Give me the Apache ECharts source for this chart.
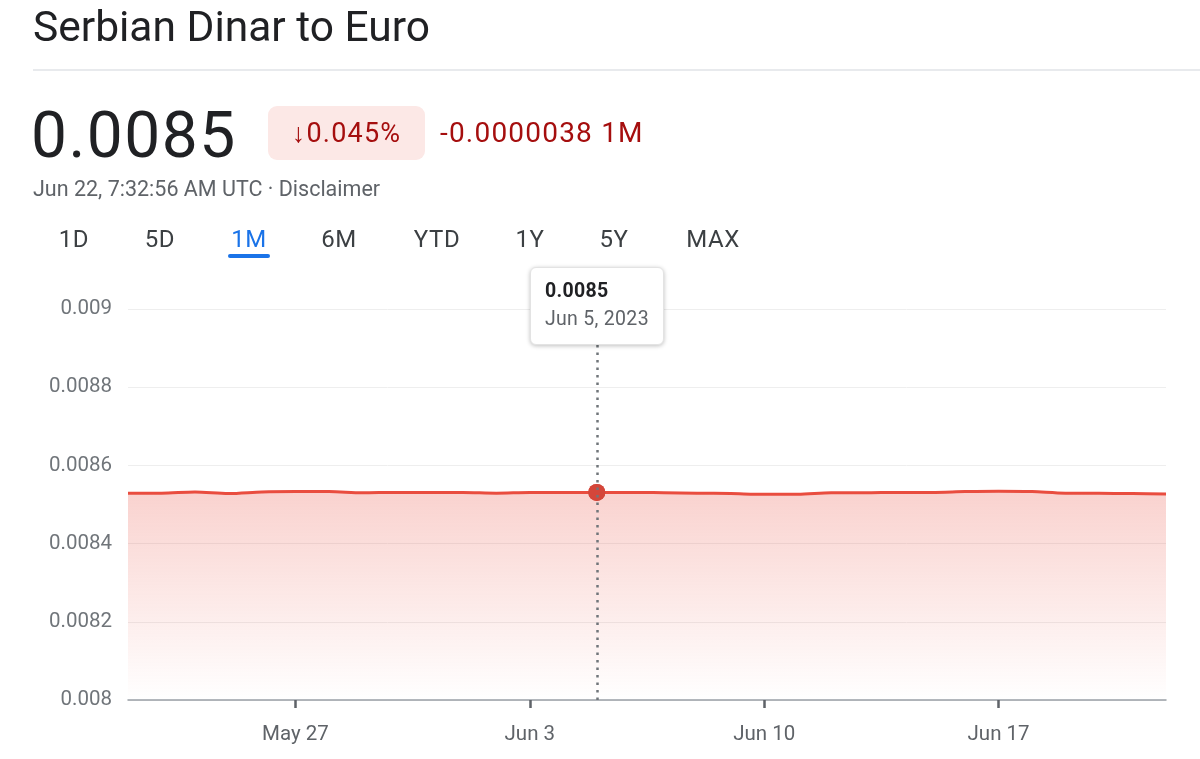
<!DOCTYPE html>
<html>
<head>
<meta charset="utf-8">
<title>Serbian Dinar to Euro</title>
<script src="https://cdn.jsdelivr.net/npm/echarts@6/dist/echarts.min.js"></script>
<style>
  html, body { margin: 0; padding: 0; background: #fff; }
  body { width: 1200px; height: 759px; position: relative; overflow: hidden; font-family: Roboto, "Noto Sans", sans-serif; }
  #chart { position: absolute; left: 0; top: 0; width: 1200px; height: 759px; }
  .hdr { position: absolute; white-space: nowrap; z-index: 2; }
  #title { left: 33px; top: 6px; font-size: 42.5px; line-height: 42px; color: #202124; }
  #rule { position: absolute; left: 33px; top: 69px; width: 1167px; height: 2px; background: #e8eaed; }
  #price { left: 31px; top: 104px; font-size: 64px; line-height: 64px; color: #202124; letter-spacing: 1.5px; }
  #badge { left: 268px; top: 106px; width: 157px; height: 54px; border-radius: 9px; background: #fce8e6;
           color: #a50e0e; font-size: 27px; line-height: 54px; text-align: center; letter-spacing: 1.2px; }
  #delta { left: 440px; top: 118px; font-size: 28px; line-height: 30px; color: #a50e0e; letter-spacing: 1.2px; }
  #stamp { left: 33px; top: 177px; font-size: 21.5px; line-height: 24px; color: #5f6368; }
  .tab { position: absolute; top: 226px; font-size: 24px; line-height: 26px; color: #3c4043; transform: translateX(-50%);
         letter-spacing: 0.6px; z-index: 2; }
  .tab.on { color: #1a73e8; }
  #uline { position: absolute; left: 228px; top: 254px; width: 42px; height: 4px; border-radius: 2px; background: #1a73e8; }
</style>
</head>
<body>
<div id="chart"></div>
<div class="hdr" id="title">Serbian Dinar to Euro</div>
<div id="rule"></div>
<div class="hdr" id="price">0.0085</div>
<div class="hdr" id="badge">↓0.045%</div>
<div class="hdr" id="delta">-0.0000038 1M</div>
<div class="hdr" id="stamp">Jun 22, 7:32:56 AM UTC · Disclaimer</div>
<div id="tabs"></div>
<div id="uline"></div>
<script>
// daily rate, RSD -> EUR, May 22 .. Jun 22 2023
var dates = [
  '2023-05-22', '2023-05-23', '2023-05-24', '2023-05-25', '2023-05-26', '2023-05-27', '2023-05-28',
  '2023-05-29', '2023-05-30', '2023-05-31', '2023-06-01', '2023-06-02', '2023-06-03', '2023-06-04',
  '2023-06-05', '2023-06-06', '2023-06-07', '2023-06-08', '2023-06-09', '2023-06-10', '2023-06-11',
  '2023-06-12', '2023-06-13', '2023-06-14', '2023-06-15', '2023-06-16', '2023-06-17', '2023-06-18',
  '2023-06-19', '2023-06-20', '2023-06-21', '2023-06-22'
];
var rates = [
  0.008529, 0.008529, 0.008532, 0.008528, 0.008532, 0.008533, 0.008533,
  0.008530, 0.008531, 0.008531, 0.008531, 0.008529, 0.008531, 0.008531,
  0.008531, 0.008531, 0.008530, 0.008529, 0.008528, 0.008526, 0.008526,
  0.008530, 0.008530, 0.008531, 0.008531, 0.008533, 0.008534, 0.008533,
  0.008529, 0.008529, 0.008528, 0.008527
];
var yTicks = [0.008, 0.0082, 0.0084, 0.0086, 0.0088, 0.009];
var tickDates = ['2023-05-27', '2023-06-03', '2023-06-10', '2023-06-17'];
var ranges = [['1D', 74], ['5D', 160], ['1M', 249], ['6M', 339], ['YTD', 437], ['1Y', 530], ['5Y', 614], ['MAX', 713]];
var focusDate = '2023-06-05';

var months = ['Jan', 'Feb', 'Mar', 'Apr', 'May', 'Jun', 'Jul', 'Aug', 'Sep', 'Oct', 'Nov', 'Dec'];
function shortDate(s) {
    var p = s.split('-');
    return months[+p[1] - 1] + ' ' + (+p[2]);
}

// range tabs
var tabs = document.getElementById('tabs');
ranges.forEach(function (r) {
    var d = document.createElement('div');
    d.className = 'tab' + (r[0] === '1M' ? ' on' : '');
    d.style.left = r[1] + 'px';
    d.textContent = r[0];
    tabs.appendChild(d);
});

var showTick = function (idx, val) { return tickDates.indexOf(dates[idx]) >= 0; };
var focusIdx = dates.indexOf(focusDate);
var red = '#d4463a';

var myChart = echarts.init(document.getElementById('chart'));
var option = {
    animation: false,
    grid: { left: 128, right: 34, top: 309, bottom: 59 },
    tooltip: {
        trigger: 'axis',
        alwaysShowContent: true,
        transitionDuration: 0,
        backgroundColor: '#fff',
        borderColor: '#e3e3e3',
        borderWidth: 1,
        padding: [10, 14, 10, 14],
        extraCssText: 'border-radius:6px;box-shadow:0 1px 4px rgba(0,0,0,0.25);',
        axisPointer: {
            type: 'line',
            lineStyle: { color: '#70757a', width: 2.5, type: [2.5, 5] },
            label: { show: false }
        },
        position: function (point, params, dom, rect, size) {
            return [point[0] - size.contentSize[0] / 2, 267];
        },
        formatter: function (params) {
            var p = params[0];
            var parts = p.name.split('-');
            return '<div style="font-family:Roboto;font-size:19.5px;font-weight:bold;color:#202124;line-height:26px;letter-spacing:0.3px">' +
                p.value.toFixed(4) + '</div>' +
                '<div style="font-family:Roboto;font-size:19.5px;color:#5f6368;line-height:30px;letter-spacing:0.3px">' +
                shortDate(p.name) + ', ' + parts[0] + '</div>';
        }
    },
    xAxis: {
        type: 'category',
        data: dates,
        boundaryGap: false,
        axisLine: { lineStyle: { color: '#9aa0a6', width: 1.5 } },
        axisTick: { show: true, interval: showTick, length: 8, lineStyle: { color: '#5f6368', width: 2.5 } },
        axisLabel: {
            interval: showTick, margin: 24, fontSize: 20.5, color: '#5f6368', fontFamily: 'Roboto',
            formatter: shortDate
        },
        splitLine: { show: false }
    },
    yAxis: {
        type: 'value',
        min: yTicks[0],
        max: yTicks[yTicks.length - 1],
        interval: 0.0002,
        axisLine: { show: false },
        axisTick: { show: false },
        axisLabel: {
            margin: 16, fontSize: 20.5, color: '#70757a', fontFamily: 'Roboto',
            formatter: function (v) { return String(parseFloat(v.toFixed(4))); }
        },
        splitLine: { lineStyle: { color: '#eeeeee', width: 1 } }
    },
    series: [{
        type: 'line',
        data: rates,
        smooth: 0.3,
        symbol: 'circle',
        symbolSize: 17,
        showSymbol: false,
        itemStyle: { color: red },
        lineStyle: { color: red, width: 3 },
        emphasis: { scale: false },
        areaStyle: {
            color: new echarts.graphic.LinearGradient(0, 0, 0, 1, [
                { offset: 0, color: 'rgba(212,70,58,0.36)' },
                { offset: 1, color: 'rgba(212,70,58,0)' }
            ])
        },
        markPoint: {
            symbol: 'circle',
            symbolSize: 17,
            label: { show: false },
            itemStyle: { color: red },
            data: [{ coord: [focusDate, rates[focusIdx]] }]
        }
    }]
};
myChart.setOption(option);
myChart.dispatchAction({ type: 'showTip', seriesIndex: 0, dataIndex: focusIdx });
</script>
</body>
</html>
